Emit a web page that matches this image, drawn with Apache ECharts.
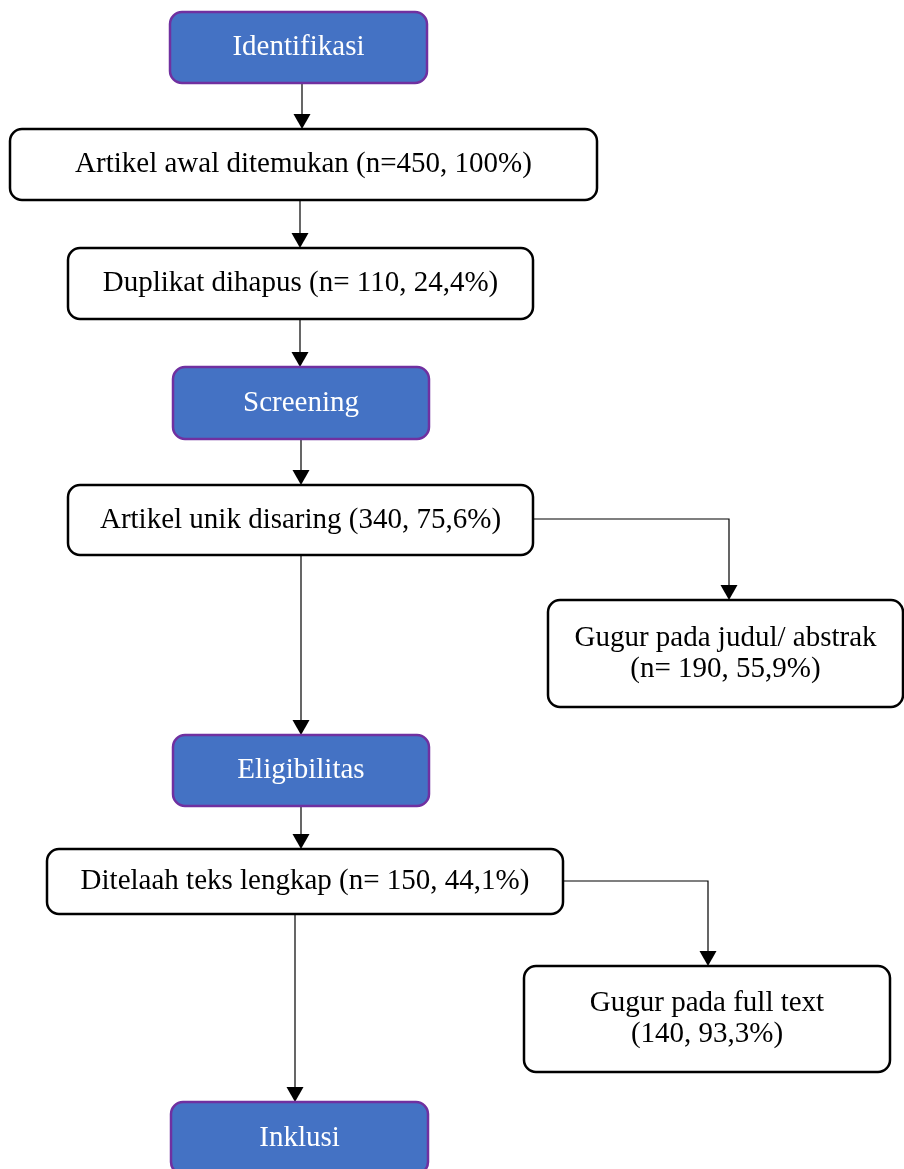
<!DOCTYPE html>
<html>
<head>
<meta charset="utf-8">
<script src="https://cdn.jsdelivr.net/npm/echarts@6/dist/echarts.min.js"></script>
<style>
html,body{margin:0;padding:0;background:#fff;}
#chart{width:904px;height:1169px;}
</style>
</head>
<body>
<div id="chart"></div>
<script>
// ---- content ----
const boxLabels = [
  'Identifikasi',
  'Artikel awal ditemukan (n=450, 100%)',
  'Duplikat dihapus (n= 110, 24,4%)',
  'Screening',
  'Artikel unik disaring (340, 75,6%)',
  'Gugur pada judul/ abstrak\n(n= 190, 55,9%)',
  'Eligibilitas',
  'Ditelaah teks lengkap (n= 150, 44,1%)',
  'Gugur pada full text\n(140, 93,3%)',
  'Inklusi'
];
const boxKinds = ['stage','step','step','stage','step','step','stage','step','step','stage'];
// links: [from, to]
const links = [[0,1],[1,2],[2,3],[3,4],[4,6],[4,5],[6,7],[7,9],[7,8]];

// ---- layout (pixels) ----
const boxRects = [
  [170, 12, 257, 71],
  [10, 129, 587, 71],
  [68, 248, 465, 71],
  [173, 367, 256, 72],
  [68, 485, 465, 70],
  [548, 600, 355, 107],
  [173, 735, 256, 71],
  [47, 849, 516, 65],
  [524, 966, 366, 106],
  [171, 1102, 257, 72]
];
// connector paths (pixel points) per link, arrow at the end
const linkPaths = [
  [[302, 83], [302, 129]],
  [[300, 200], [300, 248]],
  [[300, 319], [300, 367]],
  [[301, 439], [301, 485]],
  [[301, 555], [301, 735]],
  [[533, 519], [729, 519], [729, 600]],
  [[301, 806], [301, 849]],
  [[295, 914], [295, 1102]],
  [[563, 881], [708, 881], [708, 966]]
];

const FONT = "'Liberation Serif', 'Times New Roman', serif";
const styles = {
  stage: {fill: '#4472C4', stroke: '#7030A0', lineWidth: 2.5, text: '#ffffff'},
  step: {fill: '#ffffff', stroke: '#000000', lineWidth: 2.5, text: '#000000'}
};

const elements = [];
links.forEach((lk, i) => {
  const pts = linkPaths[i];
  const end = pts[pts.length - 1];
  const head = 15;
  const stop = [end[0], end[1] - head];
  const linePts = pts.slice(0, -1).concat([stop]);
  elements.push({
    type: 'polyline',
    shape: {points: linePts},
    style: {stroke: '#000', lineWidth: 1.2, fill: null},
    z: 1
  });
  elements.push({
    type: 'polygon',
    shape: {points: [[end[0] - 8.5, end[1] - head], [end[0] + 8.5, end[1] - head], [end[0], end[1]]]},
    style: {fill: '#000'},
    z: 1
  });
});
boxLabels.forEach((label, i) => {
  const r = boxRects[i];
  const st = styles[boxKinds[i]];
  elements.push({
    type: 'rect',
    shape: {x: r[0], y: r[1], width: r[2], height: r[3], r: 12},
    style: {fill: st.fill, stroke: st.stroke, lineWidth: st.lineWidth},
    z: 2
  });
  elements.push({
    type: 'text',
    x: r[0] + r[2] / 2,
    y: r[1] + r[3] / 2,
    style: {
      text: label,
      fill: st.text,
      font: '29px ' + FONT,
      align: 'center',
      verticalAlign: 'middle',
      lineHeight: 31
    },
    z: 3
  });
});

const chart = echarts.init(document.getElementById('chart'), null, {renderer: 'canvas'});
chart.setOption({
  backgroundColor: '#ffffff',
  animation: false,
  graphic: {elements: elements}
});
</script>
</body>
</html>
